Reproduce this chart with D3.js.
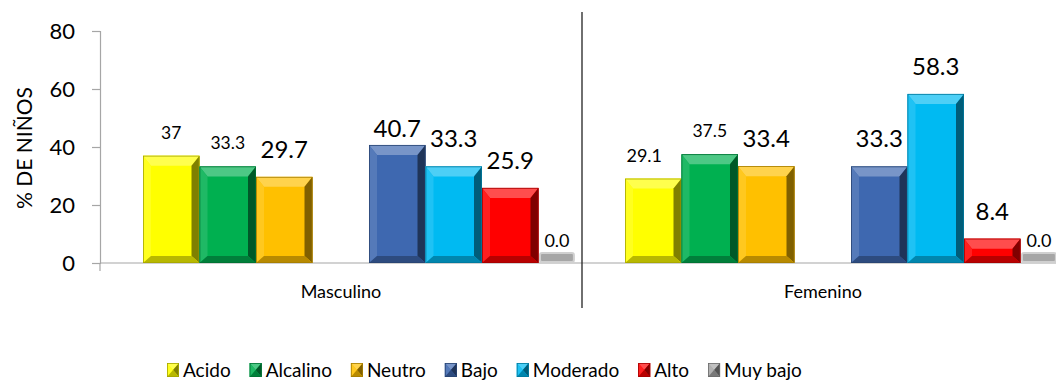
<!DOCTYPE html>
<html>
<head>
<meta charset="utf-8">
<style>
  body { margin: 0; background: #fff; }
  text { font-family: Lato, "Open Sans", sans-serif; fill: #000; }
</style>
</head>
<body>

<script src="https://d3js.org/d3.v7.min.js"></script>

<script>

const width = 1056;
const height = 380;

// data
const categories = ['Masculino', 'Femenino'];
const series = ['Acido', 'Alcalino', 'Neutro', 'Bajo', 'Moderado', 'Alto', 'Muy bajo'];
const masculino = [37, 33.3, 29.7, 40.7, 33.3, 25.9, 0.0];
const femenino = [29.1, 37.5, 33.4, 33.3, 58.3, 8.4, 0.0];
const labelText = {
  Masculino: ['37', '33.3', '29.7', '40.7', '33.3', '25.9', '0.0'],
  Femenino: ['29.1', '37.5', '33.4', '33.3', '58.3', '8.4', '0.0']
};
const yTicks = [0, 20, 40, 60, 80];

// styles
const colors = ['#ffff00', '#00b050', '#ffc000', '#3e68b0', '#00baf2', '#ff0000', '#a6a6a6'];
const labelSize = {
  Masculino: [17.5, 17.5, 24, 24, 24, 24, 18],
  Femenino: [18, 17.5, 24, 24, 24, 24, 18]
};
const labelNudge = {
  Masculino: [[0, 0], [0, 0], [0, 0], [0, 11], [0, 0], [0, 0], [0, 0]],
  Femenino: [[-9, 0], [0, 0], [0, 0], [0, 0], [0, 0], [0, 0], [0, 0]]
};

const values = { Masculino: masculino, Femenino: femenino };

const svg = d3.select('body')
              .append('svg')
              .attr('width', width)
              .attr('height', height);

const x0 = d3.scaleBand()
             .domain(categories)
             .range([100, 1064]);

// slot list with an empty slot between the two families
const slots = ['Acido', 'Alcalino', 'Neutro', '_gap', 'Bajo', 'Moderado', 'Alto', 'Muy bajo'];
const x1 = d3.scaleBand()
             .domain(slots)
             .range([43, 495]);

const y = d3.scaleLinear()
            .domain([0, 80])
            .range([263, 31]);

// y axis
const yAxis = svg.append('g')
  .attr('transform', 'translate(100,0)')
  .call(d3.axisLeft(y).tickValues(yTicks).tickSize(8).tickPadding(17));
yAxis.select('.domain').attr('stroke', '#a6a6a6').attr('stroke-width', 1.2);
yAxis.selectAll('.tick line').attr('stroke', '#a6a6a6').attr('stroke-width', 1.2);
yAxis.selectAll('.tick text')
  .style('font-family', 'Lato, sans-serif')
  .attr('font-size', 22)
  .attr('fill', '#000');

// x axis
svg.append('line')
  .attr('x1', 100).attr('x2', width)
  .attr('y1', y(0)).attr('y2', y(0))
  .attr('stroke', '#a6a6a6').attr('stroke-width', 1.2);
svg.append('line')
  .attr('x1', 100).attr('x2', 100)
  .attr('y1', y(0)).attr('y2', y(0) + 8)
  .attr('stroke', '#a6a6a6').attr('stroke-width', 1.2);

svg.selectAll('.cat')
  .data(categories)
  .enter()
  .append('text')
    .attr('x', d => x0(d) + x0.bandwidth() / 2)
    .attr('y', 298)
    .attr('text-anchor', 'middle')
    .attr('font-size', 18)
    .text(d => d);

// separator between the groups
svg.append('line')
  .attr('x1', x0('Femenino')).attr('x2', x0('Femenino'))
  .attr('y1', 12).attr('y2', 308)
  .attr('stroke', '#222').attr('stroke-width', 1.3);

// y title
svg.append('text')
  .attr('transform', 'translate(32,' + 148 + ') rotate(-90)')
  .attr('text-anchor', 'middle')
  .attr('font-size', 21)
  .text('% DE NIÑOS');

function mix(c, t, k) { return d3.interpolateRgb(c, t)(k); }

function bevel(g, x, yTop, w, h, color) {
  const bt = Math.min(10, h / 2), bs = Math.min(8, w / 2, h / 2), bb = Math.min(7, h / 2);
  g.append('rect').attr('x', x).attr('y', yTop).attr('width', w).attr('height', h)
    .attr('fill', color);
  const faces = [
    [[x, yTop], [x + w, yTop], [x + w - bs, yTop + bt], [x + bs, yTop + bt], mix(color, '#fff', 0.3)],
    [[x, yTop], [x + bs, yTop + bt], [x + bs, yTop + h - bb], [x, yTop + h], mix(color, '#fff', 0.12)],
    [[x + w, yTop], [x + w, yTop + h], [x + w - bs, yTop + h - bb], [x + w - bs, yTop + bt], mix(color, '#000', 0.5)],
    [[x, yTop + h], [x + w, yTop + h], [x + w - bs, yTop + h - bb], [x + bs, yTop + h - bb], mix(color, '#000', 0.28)]
  ];
  faces.forEach(f => {
    g.append('polygon')
      .attr('points', f.slice(0, 4).map(p => p.join(',')).join(' '))
      .attr('fill', f[4]);
  });
  g.append('rect').attr('x', x + 0.4).attr('y', yTop + 0.4).attr('width', w - 0.8).attr('height', h - 0.8)
    .attr('fill', 'none').attr('stroke', mix(color, '#000', 0.35)).attr('stroke-width', 0.8);
}

// bars
categories.forEach(cat => {
  const g = svg.append('g');
  series.forEach((s, i) => {
    const v = values[cat][i];
    const bx = x0(cat) + x1(s);
    const bw = x1.bandwidth();
    if (v > 0) {
      bevel(g, bx, y(v), bw, y(0) - y(v), colors[i]);
    } else {
      g.append('rect')
        .attr('x', bx + 1.5).attr('y', y(0) - 10)
        .attr('width', bw * 0.6).attr('height', 9)
        .attr('rx', 2)
        .attr('fill', colors[i])
        .attr('stroke', '#d0d0d0').attr('stroke-width', 2);
    }
    const nd = labelNudge[cat][i];
    const lx = v > 0 ? bx + bw / 2 : bx + 1.5 + bw * 0.3;
    const gap = labelSize[cat][i] > 20 ? 19 : 17;
    g.append('text')
      .attr('x', lx + nd[0])
      .attr('y', (v > 0 ? y(v) - gap : y(0) - 16) + nd[1])
      .attr('text-anchor', 'middle')
      .attr('font-size', labelSize[cat][i])
      .text(labelText[cat][i]);
  });
});

// legend
const legend = svg.append('g');
let lx = 0;
series.forEach((s, i) => {
  const item = legend.append('g').attr('transform', 'translate(' + lx + ',0)');
  bevel(item, 0, 363, 12, 14, colors[i]);
  const t = item.append('text')
    .attr('x', 16)
    .attr('y', 377)
    .attr('font-size', 19)
    .text(s);
  lx += 16 + t.node().getComputedTextLength() + 19;
});
legend.attr('transform', 'translate(' + (167) + ',0)');

</script>
</body>
</html>
